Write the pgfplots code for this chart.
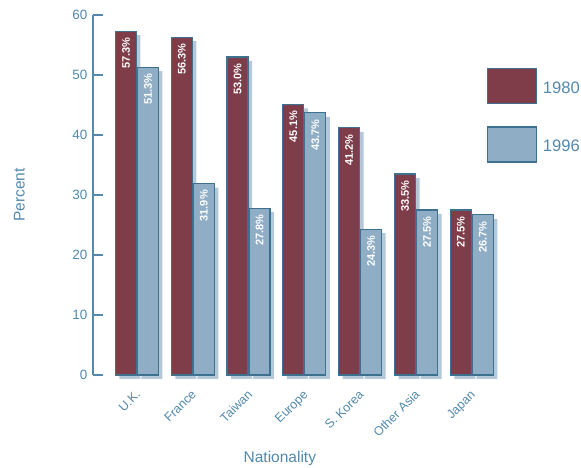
\documentclass[border=0pt]{standalone}
\usepackage{pgfplots}
\pgfplotsset{compat=1.18}
\usepackage{pgfplotstable}
\usepackage{fontspec}
\setmainfont{Liberation Sans}

\definecolor{maroonbar}{HTML}{7E3D48}
\definecolor{bluebar}{HTML}{8FAEC6}
\definecolor{edgeblue}{HTML}{3E7090}
\definecolor{shadowblue}{HTML}{B4C8D8}
\definecolor{textblue}{HTML}{5289AC}

% Share of students by nationality, 1980 vs 1996 (percent)
\pgfplotstableread{
idx y1980 y1996
0 57.3 51.3
1 56.3 31.9
2 53.0 27.8
3 45.1 43.7
4 41.2 24.3
5 33.5 27.5
6 27.5 26.7
}\nationdata

\begin{document}
\begin{tikzpicture}
\useasboundingbox (0,0) rectangle (581pt,468pt);
\begin{axis}[
  at={(93pt,93pt)}, anchor=south west,
  scale only axis, width=418pt, height=360pt,
  xmin=-0.7885, xmax=6.7025, ymin=0, ymax=60,
  clip=false,
  ybar, bar width=21pt,
  axis lines*=left,
  x axis line style={draw=none},
  y axis line style={draw=textblue, line width=1.3pt},
  xtick={0,...,6},
  xticklabels={U.K.,France,Taiwan,Europe,S. Korea,Other Asia,Japan},
  xtick style={draw=none},
  ytick={0,10,...,60},
  ytick style={draw=textblue, line width=1.3pt},
  tick align=inside, major tick length=10pt,
  /pgf/number format/assume math mode=true,
  yticklabel style={font=\fontsize{13.5}{16}\selectfont, text=textblue, xshift=-2pt},
  xticklabel style={font=\fontsize{12.5}{15}\selectfont, text=textblue,
    inner sep=0pt, xshift=-2pt, yshift=-14pt, rotate=45, anchor=north east},
  ylabel={Percent},
  ylabel style={at={(axis description cs:-0.176,0.5)}, anchor=center,
    font=\fontsize{15.5}{18}\selectfont, text=textblue},
  xlabel={Nationality},
  xlabel style={at={(axis description cs:0.447,-0.233)}, anchor=center,
    font=\fontsize{15.5}{18}\selectfont, text=textblue},
  legend style={at={(axis description cs:0.9426,0.8528)}, anchor=north west,
    draw=none, fill=none, inner sep=0pt, outer sep=0pt, row sep=22pt,
    font=\fontsize{16.6}{20}\selectfont, text=textblue},
  every node near coord/.append style={rotate=90, anchor=east, inner xsep=6pt,
    text=white, font=\bfseries\fontsize{11}{13}\selectfont},
]
% drop shadows behind the bars
\addplot[forget plot, fill=shadowblue, draw=none, bar shift=-11pt, xshift=4pt, yshift=-4pt]
  table[x=idx, y=y1980] {\nationdata};
\addplot[forget plot, fill=shadowblue, draw=none, bar shift=11pt, xshift=4pt, yshift=-4pt]
  table[x=idx, y=y1996] {\nationdata};
% the bars with their value labels
\addplot[forget plot, fill=maroonbar, draw=edgeblue, line width=1.2pt, bar shift=-11pt,
  nodes near coords={\pgfmathprintnumber[fixed,fixed zerofill,precision=1]{\pgfplotspointmeta}\%}]
  table[x=idx, y=y1980] {\nationdata};
\addplot[forget plot, fill=bluebar, draw=edgeblue, line width=1.2pt, bar shift=11pt,
  nodes near coords={\pgfmathprintnumber[fixed,fixed zerofill,precision=1]{\pgfplotspointmeta}\%}]
  table[x=idx, y=y1996] {\nationdata};
% legend swatches (the invisible point leaves a small gap before the text)
\addlegendimage{legend image code/.code={\draw[fill=maroonbar, draw=edgeblue, line width=1.3pt] (0pt,-15.5pt) rectangle (49pt,19.5pt); \path (53pt,0pt);}}
\addlegendentry{1980}
\addlegendimage{legend image code/.code={\draw[fill=bluebar, draw=edgeblue, line width=1.3pt] (0pt,-15.5pt) rectangle (49pt,19.5pt); \path (53pt,0pt);}}
\addlegendentry{1996}
\end{axis}
\end{tikzpicture}
\end{document}
